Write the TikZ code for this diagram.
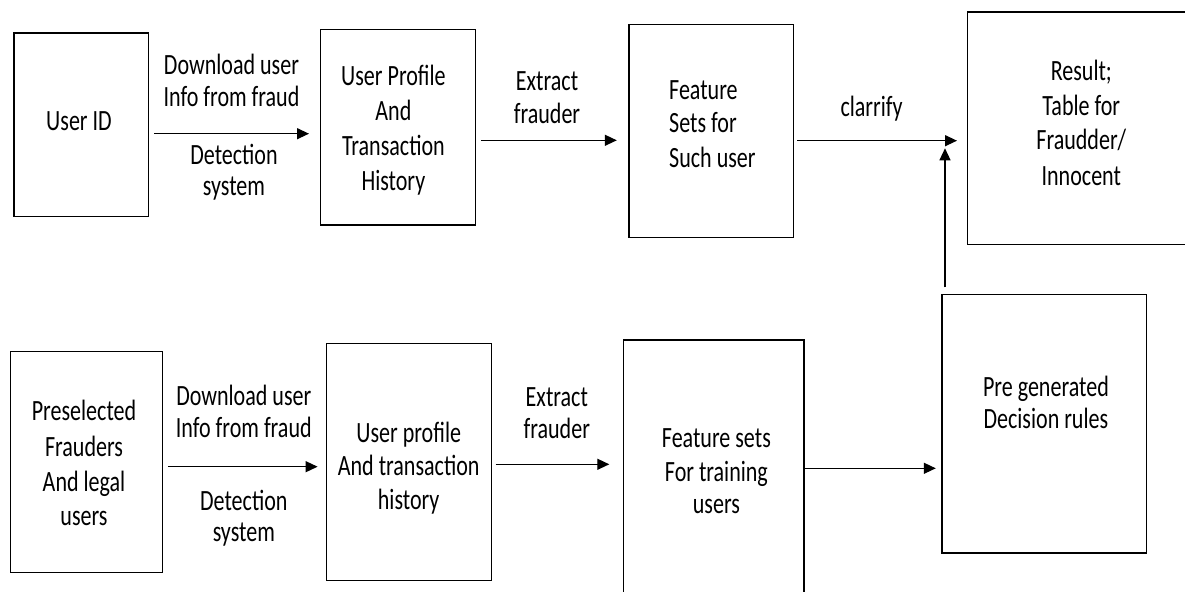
\documentclass[tikz,border=0pt]{standalone}
\usepackage{fontspec}
\setmainfont{Carlito}[FakeStretch=0.75]
\usetikzlibrary{arrows.meta}
\begin{document}
\begin{tikzpicture}[x=1bp,y=-1bp,
  box/.style={draw=black, line width=1.3bp, inner sep=0pt, anchor=north west},
  lbl/.style={inner sep=0pt, anchor=base, font=\fontsize{29.5}{35}\selectfont},
  lbll/.style={lbl, anchor=base west},
  arr/.style={draw=black, line width=1.3bp, -{Triangle[length=12bp,width=11bp]}}]
\useasboundingbox[fill=white] (0,0) rectangle (1185,592);

% boxes
\node[box, minimum width=134.6bp, minimum height=183.4bp] (uid)   at (13.4,32.3)  {};
\node[box, minimum width=154.5bp, minimum height=195.3bp] (upro)  at (320,29)     {};
\node[box, minimum width=164.1bp, minimum height=213bp]   (feat)  at (628.4,23.7) {};
\node[box, minimum width=233.2bp, minimum height=232.2bp] (res)   at (966.8,11.3) {};
\node[box, minimum width=151.9bp, minimum height=220.5bp] (pre)   at (9.6,351)    {};
\node[box, minimum width=164.6bp, minimum height=237.3bp] (upro2) at (326,342.7)  {};
\node[box, minimum width=180.3bp, minimum height=280.7bp] (feat2) at (623,339.3)  {};
\node[box, minimum width=204.1bp, minimum height=258.3bp] (rules) at (941.4,294)  {};

% texts, top row
\node[lbl] (t-uid) at (79,131) {User ID};
\node[lbl] (t-d1a) at (231.5,74.5) {Download user};
\node[lbl] (t-d1b) at (231.5,106.5) {Info from fraud};
\node[lbl] (t-d1c) at (234,164.5) {Detection};
\node[lbl] (t-d1d) at (234,196) {system};
\node[lbl] (t-up1) at (393.4,86) {User Profile};
\node[lbl] (t-up2) at (393.4,121) {And};
\node[lbl] (t-up3) at (393.4,156) {Transaction};
\node[lbl] (t-up4) at (393.4,191) {History};
\node[lbl] (t-ex1) at (547,91) {Extract};
\node[lbl] (t-ex2) at (547,124) {frauder};
\node[lbll] (t-fs1) at (669,100) {Feature};
\node[lbll] (t-fs2) at (669,133) {Sets for};
\node[lbll] (t-fs3) at (669,167.5) {Such user};
\node[lbl] (t-cl) at (871.6,116.5) {clarrify};
\node[lbl] (t-r1) at (1081.3,81) {Result;};
\node[lbl] (t-r2) at (1081.3,116) {Table for};
\node[lbl] (t-r3) at (1081.3,149.5) {Fraudder/};
\node[lbl] (t-r4) at (1081.3,186) {Innocent};

% texts, bottom row
\node[lbl] (t-p1) at (84,420) {Preselected};
\node[lbl] (t-p2) at (84,456) {Frauders};
\node[lbl] (t-p3) at (84,491) {And legal};
\node[lbl] (t-p4) at (84,525.5) {users};
\node[lbl] (t-d2a) at (243.8,405.5) {Download user};
\node[lbl] (t-d2b) at (243.8,437.5) {Info from fraud};
\node[lbl] (t-d2c) at (243.8,510) {Detection};
\node[lbl] (t-d2d) at (243.8,541.5) {system};
\node[lbl] (t-u1) at (408.7,442) {User profile};
\node[lbl] (t-u2) at (408.7,475) {And transaction};
\node[lbl] (t-u3) at (408.7,509) {history};
\node[lbl] (t-ex3) at (556.8,406.5) {Extract};
\node[lbl] (t-ex4) at (556.8,438.5) {frauder};
\node[lbl] (t-f1) at (716.4,447) {Feature sets};
\node[lbl] (t-f2) at (716.4,481) {For training};
\node[lbl] (t-f3) at (716.4,513) {users};
\node[lbl] (t-g1) at (1045.9,396) {Pre generated};
\node[lbl] (t-g2) at (1045.9,428.5) {Decision rules};

% connectors
\draw[arr, shorten <=5bp, shorten >=11bp]   (uid.east |- 0,133.7) -- (upro.west |- 0,133.7);
\draw[arr, shorten <=5bp, shorten >=11.6bp] (upro.east |- 0,140.3) -- (feat.west |- 0,140.3);
\draw[arr, shorten <=3.4bp, shorten >=9.8bp] (feat.east |- 0,140.7) -- (res.west |- 0,140.7);
\coordinate (vj) at (945,148.3);
\draw[arr, shorten <=6.7bp] (rules.north -| vj) -- (vj);
\draw[arr, shorten <=5bp, shorten >=8.4bp]   (pre.east |- 0,466.7) -- (upro2.west |- 0,466.7);
\draw[arr, shorten <=3.8bp, shorten >=13.7bp] (upro2.east |- 0,464.3) -- (feat2.west |- 0,464.3);
\draw[arr, shorten >=5.6bp] (feat2.east |- 0,468.3) -- (rules.west |- 0,468.3);
\end{tikzpicture}
\end{document}
